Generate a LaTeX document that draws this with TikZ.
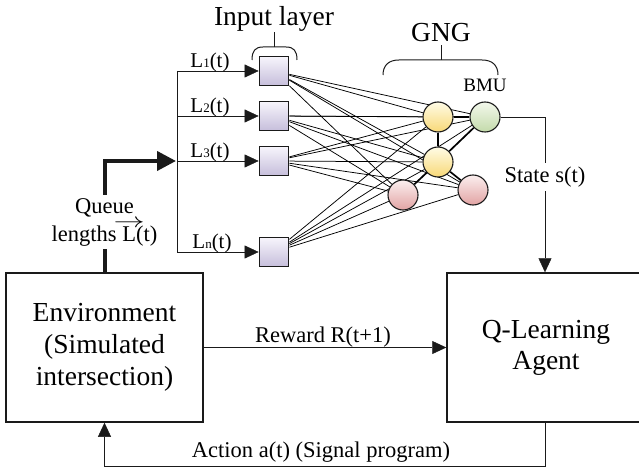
\documentclass[tikz,border=0pt]{standalone}
\usepackage{fontspec}
\usepackage{graphicx}
\setmainfont{Liberation Serif}
\usetikzlibrary{arrows.meta}
\pgfdeclarelayer{background}
\pgfsetlayers{background,main}
\definecolor{sqtop}{HTML}{F7F5FC}
\definecolor{sqbot}{HTML}{C6BEDB}
\definecolor{yeltop}{HTML}{FFFCE6}
\definecolor{yelbot}{HTML}{F8D877}
\definecolor{grtop}{HTML}{F3F8EC}
\definecolor{grbot}{HTML}{C3DAAA}
\definecolor{redtop}{HTML}{FBEFEF}
\definecolor{redbot}{HTML}{E2A3A3}
\definecolor{ink}{HTML}{1A1A1A}
\newcommand\myvecL{\setbox0\hbox{L}\hbox to \wd0{\hss\raisebox{13.5pt}[\ht0][0pt]{\scalebox{1.5}[1]{$\rightarrow$}}\hss}\kern-\wd0 L}
\begin{document}
\begin{tikzpicture}[x=1pt,y=-1pt,
  line width=1.2pt, draw=ink,
  tip/.style={-{Triangle[length=14pt,width=13pt]}},
  bigtip/.style={-{Triangle[length=19pt,width=19pt]}},
  bigbox/.style={draw=ink,line width=1.5pt,minimum height=149pt,inner sep=0pt,align=center,
    font=\fontsize{27.5}{32}\selectfont},
  sqnode/.style={draw=ink,line width=1.8pt,minimum size=29pt,inner sep=0pt,top color=sqtop,bottom color=sqbot},
  gnode/.style={circle,draw=ink,line width=1.1pt,minimum size=30pt,inner sep=0pt},
  yel/.style={gnode,top color=yeltop,bottom color=yelbot},
  grn/.style={gnode,top color=grtop,bottom color=grbot},
  rd/.style={gnode,top color=redtop,bottom color=redbot},
  midlab/.style={font=\fontsize{22.5}{26}\selectfont,inner sep=0pt},
  llab/.style={font=\fontsize{21}{21}\selectfont,inner sep=0pt,anchor=base},
  biglab/.style={font=\fontsize{27.5}{30}\selectfont,inner sep=0pt,anchor=base},
  wire/.style={line width=0.75pt},
  gedge/.style={line width=1.7pt}
]
\useasboundingbox (0,0) rectangle (639,470);

% main boxes
\node[bigbox,minimum width=197pt] (env) at (104.5,347.5) {Environment\\(Simulated\\intersection)};
\node[bigbox,minimum width=207pt] (q) at (550.5,347.5) {\hspace*{-9pt}\raisebox{-2pt}{\parbox{190pt}{\centering Q-Learning\\[-1pt]Agent}}};
\coordinate (qx) at (545,0);

% input squares
\node[sqnode] (s1) at (274,71) {};
\node[sqnode] (s2) at (274,116) {};
\node[sqnode] (s3) at (274,161) {};
\node[sqnode] (sn) at (274,252) {};

% GNG nodes
\node[yel] (y1) at (438,117) {};
\node[grn] (gr) at (485,117) {};
\node[yel] (y2) at (438,162) {};
\node[rd] (r1) at (403,195) {};
\node[rd] (r2) at (473,190) {};

\begin{pgfonlayer}{background}
\foreach \s in {s1,s2,s3,sn}
  \foreach \c in {y1,gr,y2,r1,r2}
    \draw[wire] (\s) -- (\c);
\draw[gedge] (y1) -- (gr);
\draw[gedge] (y1) -- (y2);
\draw[gedge] (y2) -- (gr);
\draw[gedge] (y2) -- (r1);
\draw[gedge] (y2) -- (r2);
\end{pgfonlayer}

% distributor
\coordinate (d1) at (177,71);
\coordinate (d2) at (177,116);
\coordinate (d3) at (177,161);
\coordinate (dn) at (177,252);
\coordinate (din) at (176,161);
\draw (d1) -- (dn);
\draw[tip] (d1) -- (s1);
\draw[tip] (d2) -- (s2);
\draw[tip] (d3) -- (s3);
\draw[tip] (dn) -- (sn);

% thick queue arrow
\draw[line width=4pt,bigtip] (env.north) |- (din);
\node[midlab,fill=white,align=center,inner xsep=2pt,inner ysep=3pt,font=\fontsize{22.5}{28}\selectfont] (ql) at (104.5,222)
  {Queue\\lengths \myvecL(t)};

% labels L
\node[llab] (l1) at (210,68) {L{\fontsize{13}{13}\selectfont 1}(t)};
\node[llab] (l2) at (210,113) {L{\fontsize{13}{13}\selectfont 2}(t)};
\node[llab] (l3) at (210,158) {L{\fontsize{13}{13}\selectfont 3}(t)};
\node[llab] (ln) at (212,248) {L{\fontsize{13}{13}\selectfont n}(t)};

% braces
\draw[line width=1pt] (252,60) .. controls (252,51) and (255,47) .. (263,47) -- (286,47) .. controls (294,47) and (297,51) .. (297,60);
\draw[line width=1pt] (274,47) -- (274,32);
\node[biglab] (inl) at (274,26) {Input layer};

\draw[line width=1pt] (383,75) .. controls (383,65) and (389,60) .. (399,60) -- (482,60) .. controls (492,60) and (498,65) .. (498,75);
\draw[line width=1pt] (441,60) -- (441,45);
\node[biglab] (gng) at (441,42) {GNG};
\node[font=\fontsize{19}{19}\selectfont,inner sep=0pt,anchor=base] (bmu) at (485,92) {BMU};

% state
\draw[tip] (gr.east) -| (q.north -| qx);
\node[midlab,fill=white,inner xsep=2pt,inner ysep=4pt] (st) at (545,177) {State s(t)};

% reward
\draw[tip] (env.east) -- (q.west);
\node[midlab,anchor=base] (rw) at (323,342) {Reward R(t+1)};

% action
\draw[tip] (q.south -| qx) -- ++(0,43) -| (env.south);
\node[midlab,anchor=base] (ac) at (321,457) {Action a(t) (Signal program)};
\end{tikzpicture}
\end{document}
